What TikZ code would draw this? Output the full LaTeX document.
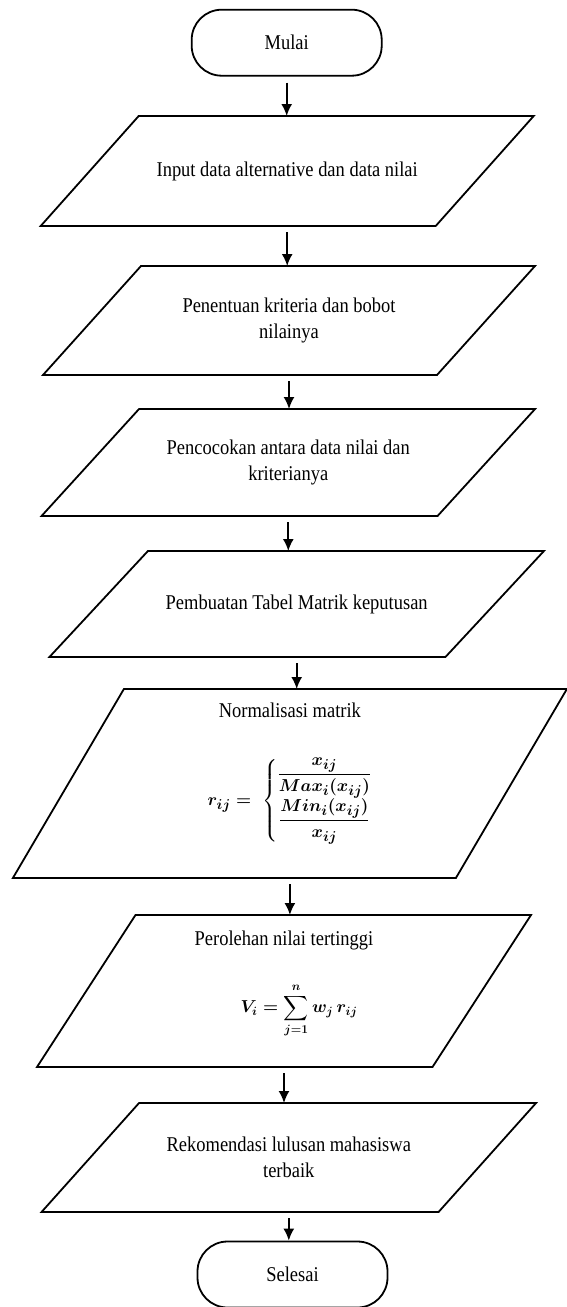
\documentclass[tikz,border=0pt]{standalone}
\usepackage{fontspec}
\setmainfont[FakeStretch=0.88]{Liberation Serif}
\usepackage{amsmath}
\usetikzlibrary{arrows.meta}

\tikzset{
  mulai/.style={draw, rectangle, rounded corners=30pt, minimum width=190pt,
    minimum height=66pt, inner sep=0pt, line width=1.8pt,
    font=\fontsize{21}{26}\selectfont},
  masukan/.style={rectangle, inner sep=0pt, outer sep=0pt, align=center,
    font=\fontsize{21}{26}\selectfont},
  garis/.style={line width=1.8pt, line join=miter},
  panah/.style={-{Latex[length=12pt,width=11pt]}, line width=1.8pt, shorten <=6pt},
}
% jajaran genjang di sekeliling node #1, geser atas/bawah #2
\newcommand{\jajar}[2]{%
  \draw[garis] ([xshift=#2/2]#1.north west) -- ([xshift=#2/2]#1.north east)
    -- ([xshift=-#2/2]#1.south east) -- ([xshift=-#2/2]#1.south west) -- cycle;}

\begin{document}
\begin{tikzpicture}[x=1pt,y=-1pt]
\useasboundingbox (0,0) rectangle (567,1307);

\node[mulai] (mulai) at (286.7,42.7) {Mulai};
\node[masukan, minimum width=395pt, minimum height=110pt] (input) at (287.2,171)
  {Input data alternative dan data nilai};
\node[masukan, minimum width=394pt, minimum height=109pt] (kriteria) at (289,320.5)
  {Penentuan kriteria dan bobot\\ nilainya};
\node[masukan, minimum width=396pt, minimum height=107pt] (cocok) at (288.3,462.5)
  {Pencocokan antara data nilai dan\\ kriterianya};
\node[masukan, minimum width=396pt, minimum height=106pt] (tabel) at (296.7,604)
  {Pembuatan Tabel Matrik keputusan};
\node[masukan, minimum width=443pt, minimum height=189pt] (normal) at (289.9,783.5)
  {Normalisasi matrik\\[39pt]
   \raisebox{0pt}[\height][\dimexpr\depth+20pt\relax]{\fontsize{19}{22}\selectfont
   \boldmath$r_{ij} =\;\left\{\begin{array}{@{}c@{}}
     \dfrac{x_{ij}}{Max_i(x_{ij})}\\[8pt]
     \dfrac{Min_i(x_{ij})}{x_{ij}}\end{array}\right.$}};
\node[masukan, minimum width=395.5pt, minimum height=152pt] (nilai) at (284,991)
  {Perolehan nilai tertinggi\\[33pt]
   \hspace*{30pt}\raisebox{0pt}[\height][\dimexpr\depth+14pt\relax]{\fontsize{18}{22}\selectfont
   \boldmath$\displaystyle V_i = \sum_{j=1}^{n} w_j\, r_{ij}$}};
\node[masukan, minimum width=397pt, minimum height=109pt] (rekomendasi) at (288.8,1157.5)
  {Rekomendasi lulusan mahasiswa\\ terbaik};
\node[mulai] (selesai) at (292.5,1274.5) {Selesai};

\jajar{input}{98}
\jajar{kriteria}{98}
\jajar{cocok}{97.5}
\jajar{tabel}{98.5}
\jajar{normal}{111}
\jajar{nilai}{98.5}
\jajar{rekomendasi}{97.5}

% alur
\draw[panah] (mulai.south) -- (mulai.south |- input.north);
\draw[panah] (input.south) -- (input.south |- kriteria.north);
\draw[panah] (kriteria.south) -- (kriteria.south |- cocok.north);
\draw[panah] (cocok.south) -- (cocok.south |- tabel.north);
\draw[panah] (tabel.south) -- (tabel.south |- normal.north);
\draw[panah] (normal.south) -- (normal.south |- nilai.north);
\draw[panah] (nilai.south) -- (nilai.south |- rekomendasi.north);
\draw[panah] (rekomendasi.south) -- (rekomendasi.south |- selesai.north);
\end{tikzpicture}
\end{document}
